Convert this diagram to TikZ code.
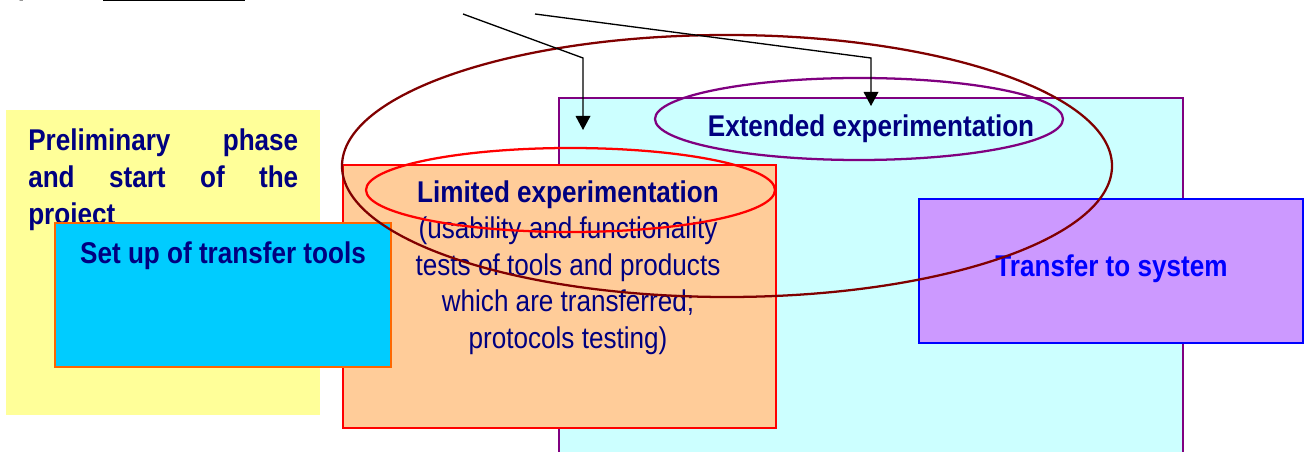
\documentclass[tikz,border=0pt]{standalone}
\usepackage{fontspec}
\setmainfont{Liberation Sans}[FakeStretch=0.87]
\newfontfamily\seriffont{Liberation Serif}
\usetikzlibrary{shapes.geometric,arrows.meta,fit}

\definecolor{navytext}{HTML}{000080}
\definecolor{bluetext}{HTML}{0000FF}
\definecolor{paleyellow}{HTML}{FFFF99}
\definecolor{palecyan}{HTML}{CCFFFF}
\definecolor{peach}{HTML}{FFCC99}
\definecolor{skycyan}{HTML}{00CCFF}
\definecolor{lilac}{HTML}{CC99FF}
\definecolor{maroonline}{HTML}{800000}
\definecolor{purpleline}{HTML}{800080}
\definecolor{orangeline}{HTML}{FF6600}

\tikzset{
  phasebox/.style={rectangle, inner sep=0pt, line width=1.1pt},
  ring/.style={ellipse, draw, inner sep=0pt, line width=1.7pt},
  bigtext/.style={font=\fontsize{22.5pt}{27.3pt}\selectfont, inner sep=0pt},
  pointer/.style={draw=black, line width=1pt, -{Triangle[length=10.5pt,width=11pt]}}
}

\begin{document}
\begin{tikzpicture}[x=0.75pt,y=-0.75pt]
\useasboundingbox (0,0) rectangle (1305,452);

% text cut off at the top edge
\node[font=\seriffont\fontsize{12pt}{14pt}\selectfont, anchor=base west, inner sep=0pt] (frag1) at (19,-2.2) {p};
\node[font=\seriffont\fontsize{12pt}{14pt}\selectfont, anchor=base west, inner sep=0pt] (frag2) at (159,-2.2) {p};
\coordinate (ulA) at (103,0.8);
\coordinate (ulB) at (245,0.8);
\draw[line width=1pt] (ulA) -- (ulB);

% preliminary phase
\node[phasebox, fill=paleyellow, fit={(6,110) (320,415)}] (prelim) {};
\node[bigtext, text=navytext, anchor=base west, text width=202.5pt, align=left, font=\bfseries\fontsize{22.5pt}{27.5pt}\selectfont] (prelimtext) at (28,150.7)
  {Preliminary\hfill phase\\and\hfill start\hfill of\hfill the\\project};

% extended experimentation area
\node[phasebox, draw=purpleline, fill=palecyan, fit={(559,98) (1183,460)}] (extended) {};

% limited experimentation (anchored on the baseline of its last line)
\node[phasebox, draw=red, fill=peach, fit={(343,165) (776,428)}] (limited) {};
\node[bigtext, text=navytext, anchor=base, align=center] (limitedtext) at (568,348)
  {\textbf{Limited experimentation}\\(usability and functionality\\tests of tools and products\\which are transferred;\\protocols testing)};

% transfer tools
\node[phasebox, draw=orangeline, line width=1.5pt, fill=skycyan, fit={(55,223) (391,367)}] (tools) {};
\node[bigtext, text=navytext, anchor=base, font=\bfseries\fontsize{22.5pt}{27pt}\selectfont] (toolstext) at (223,263) {Set up of transfer tools};

% transfer to system
\node[phasebox, draw=bluetext, line width=1.5pt, fill=lilac, fit={(919,199) (1303,343)}] (system) {};
\node[bigtext, text=bluetext, anchor=base, font=\bfseries\fontsize{22.5pt}{27pt}\selectfont] (systemtext) at (1111.5,276) {Transfer to system};

% extended experimentation label
\node[bigtext, text=navytext, anchor=base, font=\bfseries\fontsize{22.5pt}{27pt}\selectfont] (extendedtext) at (871,137) {Extended experimentation};

% rings
\node[ring, draw=purpleline, minimum width=408*0.75pt, minimum height=82*0.75pt] (extring) at (859,119) {};
\node[ring, draw=red, minimum width=409*0.75pt, minimum height=84*0.75pt] (limring) at (570.5,190) {};
\node[ring, draw=maroonline, minimum width=770*0.75pt, minimum height=262*0.75pt] (bigring) at (727,166) {};

% pointers
\coordinate (srcA) at (463,14);
\coordinate (bendA) at (583,58);
\coordinate (tipA) at (583,130);
\coordinate (srcB) at (535,14);
\coordinate (bendB) at (871,58);
\coordinate (tipB) at (871,106);
\draw[pointer] (srcA) -- (bendA) -- (tipA);
\draw[pointer] (srcB) -- (bendB) -- (tipB);
\end{tikzpicture}
\end{document}
